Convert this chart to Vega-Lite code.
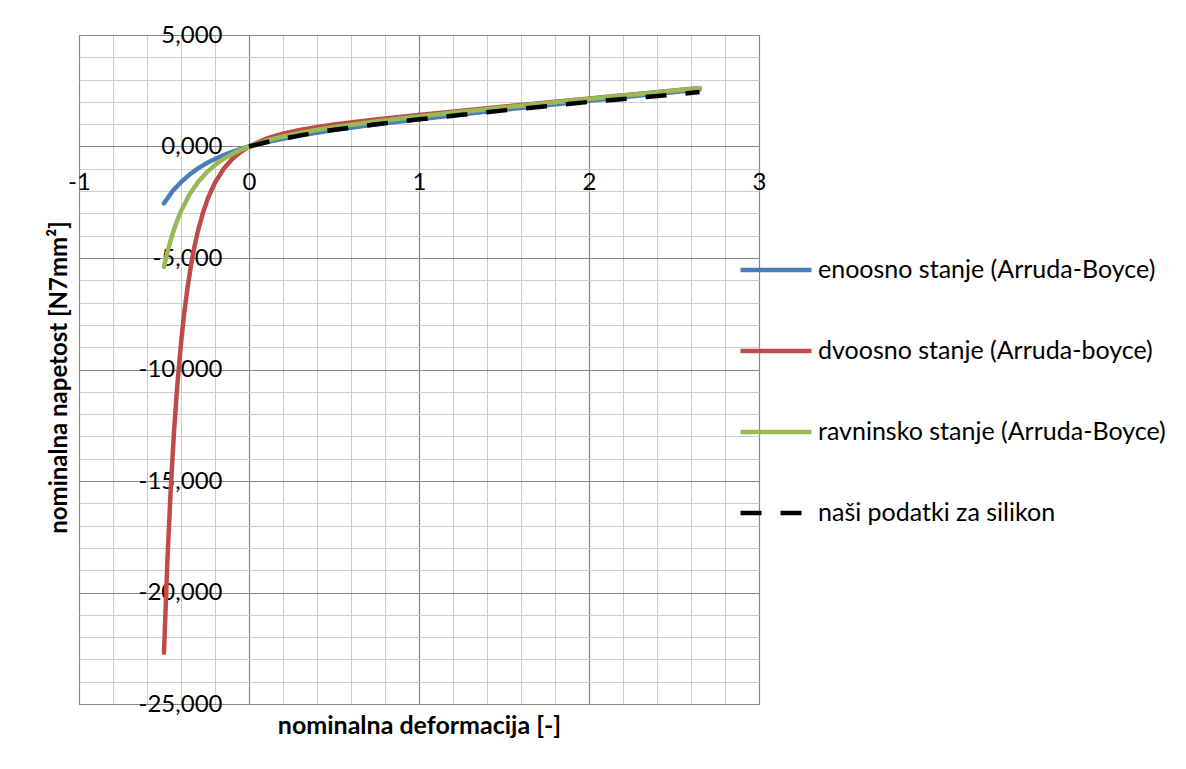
{
  "$schema": "https://vega.github.io/schema/vega-lite/v6.json",
  "width": 680,
  "height": 669,
  "autosize": {"type": "none"},
  "padding": {"left": 79, "top": 35, "right": 427, "bottom": 65},
  "background": "white",
  "config": {
    "view": {"stroke": "#868686", "strokeWidth": 1},
    "font": "Lato"
  },
  "data": {
    "values": [
      {"series": "enoosno stanje (Arruda-Boyce)", "x": -0.5, "y": -2.55},
      {"series": "enoosno stanje (Arruda-Boyce)", "x": -0.45, "y": -2.0},
      {"series": "enoosno stanje (Arruda-Boyce)", "x": -0.4, "y": -1.6},
      {"series": "enoosno stanje (Arruda-Boyce)", "x": -0.35, "y": -1.26},
      {"series": "enoosno stanje (Arruda-Boyce)", "x": -0.3, "y": -0.98},
      {"series": "enoosno stanje (Arruda-Boyce)", "x": -0.25, "y": -0.75},
      {"series": "enoosno stanje (Arruda-Boyce)", "x": -0.2, "y": -0.56},
      {"series": "enoosno stanje (Arruda-Boyce)", "x": -0.15, "y": -0.39},
      {"series": "enoosno stanje (Arruda-Boyce)", "x": -0.1, "y": -0.245},
      {"series": "enoosno stanje (Arruda-Boyce)", "x": -0.05, "y": -0.115},
      {"series": "enoosno stanje (Arruda-Boyce)", "x": 0, "y": 0},
      {"series": "enoosno stanje (Arruda-Boyce)", "x": 0.1, "y": 0.19},
      {"series": "enoosno stanje (Arruda-Boyce)", "x": 0.2, "y": 0.35},
      {"series": "enoosno stanje (Arruda-Boyce)", "x": 0.3, "y": 0.49},
      {"series": "enoosno stanje (Arruda-Boyce)", "x": 0.4, "y": 0.62},
      {"series": "enoosno stanje (Arruda-Boyce)", "x": 0.5, "y": 0.74},
      {"series": "enoosno stanje (Arruda-Boyce)", "x": 0.75, "y": 1.0},
      {"series": "enoosno stanje (Arruda-Boyce)", "x": 1.0, "y": 1.22},
      {"series": "enoosno stanje (Arruda-Boyce)", "x": 1.25, "y": 1.44},
      {"series": "enoosno stanje (Arruda-Boyce)", "x": 1.5, "y": 1.65},
      {"series": "enoosno stanje (Arruda-Boyce)", "x": 1.75, "y": 1.85},
      {"series": "enoosno stanje (Arruda-Boyce)", "x": 2.0, "y": 2.05},
      {"series": "enoosno stanje (Arruda-Boyce)", "x": 2.25, "y": 2.25},
      {"series": "enoosno stanje (Arruda-Boyce)", "x": 2.5, "y": 2.44},
      {"series": "enoosno stanje (Arruda-Boyce)", "x": 2.65, "y": 2.55},

      {"series": "dvoosno stanje (Arruda-boyce)", "x": -0.5, "y": -22.7},
      {"series": "dvoosno stanje (Arruda-boyce)", "x": -0.48, "y": -18.56},
      {"series": "dvoosno stanje (Arruda-boyce)", "x": -0.46, "y": -15.29},
      {"series": "dvoosno stanje (Arruda-boyce)", "x": -0.44, "y": -12.67},
      {"series": "dvoosno stanje (Arruda-boyce)", "x": -0.42, "y": -10.55},
      {"series": "dvoosno stanje (Arruda-boyce)", "x": -0.4, "y": -8.83},
      {"series": "dvoosno stanje (Arruda-boyce)", "x": -0.38, "y": -7.41},
      {"series": "dvoosno stanje (Arruda-boyce)", "x": -0.36, "y": -6.25},
      {"series": "dvoosno stanje (Arruda-boyce)", "x": -0.34, "y": -5.27},
      {"series": "dvoosno stanje (Arruda-boyce)", "x": -0.32, "y": -4.46},
      {"series": "dvoosno stanje (Arruda-boyce)", "x": -0.3, "y": -3.78},
      {"series": "dvoosno stanje (Arruda-boyce)", "x": -0.27, "y": -2.95},
      {"series": "dvoosno stanje (Arruda-boyce)", "x": -0.24, "y": -2.29},
      {"series": "dvoosno stanje (Arruda-boyce)", "x": -0.2, "y": -1.62},
      {"series": "dvoosno stanje (Arruda-boyce)", "x": -0.15, "y": -1.01},
      {"series": "dvoosno stanje (Arruda-boyce)", "x": -0.1, "y": -0.57},
      {"series": "dvoosno stanje (Arruda-boyce)", "x": -0.05, "y": -0.25},
      {"series": "dvoosno stanje (Arruda-boyce)", "x": 0, "y": 0},
      {"series": "dvoosno stanje (Arruda-boyce)", "x": 0.1, "y": 0.345},
      {"series": "dvoosno stanje (Arruda-boyce)", "x": 0.2, "y": 0.575},
      {"series": "dvoosno stanje (Arruda-boyce)", "x": 0.3, "y": 0.74},
      {"series": "dvoosno stanje (Arruda-boyce)", "x": 0.4, "y": 0.87},
      {"series": "dvoosno stanje (Arruda-boyce)", "x": 0.5, "y": 0.985},
      {"series": "dvoosno stanje (Arruda-boyce)", "x": 0.75, "y": 1.215},
      {"series": "dvoosno stanje (Arruda-boyce)", "x": 1.0, "y": 1.415},
      {"series": "dvoosno stanje (Arruda-boyce)", "x": 1.25, "y": 1.6},
      {"series": "dvoosno stanje (Arruda-boyce)", "x": 1.5, "y": 1.79},
      {"series": "dvoosno stanje (Arruda-boyce)", "x": 1.75, "y": 1.97},
      {"series": "dvoosno stanje (Arruda-boyce)", "x": 2.0, "y": 2.15},
      {"series": "dvoosno stanje (Arruda-boyce)", "x": 2.25, "y": 2.33},
      {"series": "dvoosno stanje (Arruda-boyce)", "x": 2.5, "y": 2.51},
      {"series": "dvoosno stanje (Arruda-boyce)", "x": 2.65, "y": 2.62},

      {"series": "ravninsko stanje (Arruda-Boyce)", "x": -0.5, "y": -5.4},
      {"series": "ravninsko stanje (Arruda-Boyce)", "x": -0.48, "y": -4.75},
      {"series": "ravninsko stanje (Arruda-Boyce)", "x": -0.46, "y": -4.18},
      {"series": "ravninsko stanje (Arruda-Boyce)", "x": -0.44, "y": -3.7},
      {"series": "ravninsko stanje (Arruda-Boyce)", "x": -0.42, "y": -3.27},
      {"series": "ravninsko stanje (Arruda-Boyce)", "x": -0.4, "y": -2.9},
      {"series": "ravninsko stanje (Arruda-Boyce)", "x": -0.35, "y": -2.15},
      {"series": "ravninsko stanje (Arruda-Boyce)", "x": -0.3, "y": -1.595},
      {"series": "ravninsko stanje (Arruda-Boyce)", "x": -0.25, "y": -1.167},
      {"series": "ravninsko stanje (Arruda-Boyce)", "x": -0.2, "y": -0.83},
      {"series": "ravninsko stanje (Arruda-Boyce)", "x": -0.15, "y": -0.56},
      {"series": "ravninsko stanje (Arruda-Boyce)", "x": -0.1, "y": -0.34},
      {"series": "ravninsko stanje (Arruda-Boyce)", "x": -0.05, "y": -0.156},
      {"series": "ravninsko stanje (Arruda-Boyce)", "x": 0, "y": 0},
      {"series": "ravninsko stanje (Arruda-Boyce)", "x": 0.1, "y": 0.251},
      {"series": "ravninsko stanje (Arruda-Boyce)", "x": 0.2, "y": 0.447},
      {"series": "ravninsko stanje (Arruda-Boyce)", "x": 0.3, "y": 0.608},
      {"series": "ravninsko stanje (Arruda-Boyce)", "x": 0.4, "y": 0.746},
      {"series": "ravninsko stanje (Arruda-Boyce)", "x": 0.5, "y": 0.867},
      {"series": "ravninsko stanje (Arruda-Boyce)", "x": 0.75, "y": 1.126},
      {"series": "ravninsko stanje (Arruda-Boyce)", "x": 1.0, "y": 1.35},
      {"series": "ravninsko stanje (Arruda-Boyce)", "x": 1.25, "y": 1.557},
      {"series": "ravninsko stanje (Arruda-Boyce)", "x": 1.5, "y": 1.754},
      {"series": "ravninsko stanje (Arruda-Boyce)", "x": 1.75, "y": 1.945},
      {"series": "ravninsko stanje (Arruda-Boyce)", "x": 2.0, "y": 2.133},
      {"series": "ravninsko stanje (Arruda-Boyce)", "x": 2.25, "y": 2.319},
      {"series": "ravninsko stanje (Arruda-Boyce)", "x": 2.5, "y": 2.503},
      {"series": "ravninsko stanje (Arruda-Boyce)", "x": 2.65, "y": 2.613},

      {"series": "naši podatki za silikon", "x": 0, "y": 0},
      {"series": "naši podatki za silikon", "x": 0.1, "y": 0.19},
      {"series": "naši podatki za silikon", "x": 0.2, "y": 0.35},
      {"series": "naši podatki za silikon", "x": 0.3, "y": 0.5},
      {"series": "naši podatki za silikon", "x": 0.4, "y": 0.63},
      {"series": "naši podatki za silikon", "x": 0.5, "y": 0.75},
      {"series": "naši podatki za silikon", "x": 0.75, "y": 1.0},
      {"series": "naši podatki za silikon", "x": 1.0, "y": 1.22},
      {"series": "naši podatki za silikon", "x": 1.25, "y": 1.42},
      {"series": "naši podatki za silikon", "x": 1.5, "y": 1.62},
      {"series": "naši podatki za silikon", "x": 1.75, "y": 1.81},
      {"series": "naši podatki za silikon", "x": 2.0, "y": 2.0},
      {"series": "naši podatki za silikon", "x": 2.25, "y": 2.16},
      {"series": "naši podatki za silikon", "x": 2.5, "y": 2.33},
      {"series": "naši podatki za silikon", "x": 2.65, "y": 2.44}
    ]
  },
  "encoding": {
    "color": {
      "field": "series", "type": "nominal",
      "scale": {
        "domain": ["enoosno stanje (Arruda-Boyce)", "dvoosno stanje (Arruda-boyce)", "ravninsko stanje (Arruda-Boyce)", "naši podatki za silikon"],
        "range": ["#4A7EBB", "#BE4B48", "#98B954", "#000000"]
      },
      "legend": {
        "orient": "none", "legendX": 659, "legendY": 197, "title": null, "padding": 0,
        "symbolType": "stroke", "symbolSize": 5041, "symbolStrokeWidth": 4.5,
        "labelFont": "Lato", "labelFontSize": 25, "labelColor": "#000000", "labelOffset": 4,
        "labelLimit": 600, "rowPadding": 30
      }
    },
    "strokeDash": {
      "field": "series", "type": "nominal",
      "scale": {
        "domain": ["enoosno stanje (Arruda-Boyce)", "dvoosno stanje (Arruda-boyce)", "ravninsko stanje (Arruda-Boyce)", "naši podatki za silikon"],
        "range": [[1, 0], [1, 0], [1, 0], [21, 19]]
      },
      "legend": {
        "orient": "none", "legendX": 659, "legendY": 197, "title": null, "padding": 0,
        "symbolType": "stroke", "symbolSize": 5041, "symbolStrokeWidth": 4.5,
        "labelFont": "Lato", "labelFontSize": 25, "labelColor": "#000000", "labelOffset": 4,
        "labelLimit": 600, "rowPadding": 30
      }
    }
  },
  "layer": [
    {
      "transform": [{"filter": "datum.series === 'enoosno stanje (Arruda-Boyce)'"}],
      "mark": {"type": "line", "strokeWidth": 4.5, "strokeCap": "round", "strokeJoin": "round"},
      "encoding": {
        "x": {"field": "x", "type": "quantitative", "scale": {"domain": [-1, 3], "nice": false, "zero": false},
          "axis": {"orient": "bottom", "values": [-0.8, -0.6, -0.4, -0.2, 0.2, 0.4, 0.6, 0.8, 1.2, 1.4, 1.6, 1.8, 2.2, 2.4, 2.6, 2.8],
            "grid": true, "gridColor": "#cdcdcd", "gridWidth": 1, "gridOpacity": 1, "labels": false, "ticks": false, "domain": false, "title": null}},
        "y": {"field": "y", "type": "quantitative", "scale": {"domain": [-25, 5], "nice": false, "zero": false},
          "axis": {"orient": "left", "values": [-24, -23, -22, -21, -19, -18, -17, -16, -14, -13, -12, -11, -9, -8, -7, -6, -4, -3, -2, -1, 1, 2, 3, 4],
            "grid": true, "gridColor": "#cdcdcd", "gridWidth": 1, "gridOpacity": 1, "labels": false, "ticks": false, "domain": false, "title": null}}
      }
    },
    {
      "transform": [{"filter": "datum.series === 'dvoosno stanje (Arruda-boyce)'"}],
      "mark": {"type": "line", "strokeWidth": 4.5, "strokeCap": "round", "strokeJoin": "round"},
      "encoding": {
        "x": {"field": "x", "type": "quantitative", "scale": {"domain": [-1, 3], "nice": false, "zero": false},
          "axis": {"orient": "bottom", "values": [-1, 0, 1, 2, 3],
            "grid": true, "gridColor": "#868686", "gridWidth": 1.2, "gridOpacity": 1, "labels": false, "ticks": false, "domain": false,
            "title": "nominalna deformacija [-]", "titleFont": "Lato", "titleFontSize": 25, "titleFontWeight": "bold", "titleColor": "#000000", "titlePadding": 9}},
        "y": {"field": "y", "type": "quantitative", "scale": {"domain": [-25, 5], "nice": false, "zero": false},
          "axis": {"orient": "left", "values": [-25, -20, -15, -10, -5, 0, 5],
            "grid": true, "gridColor": "#868686", "gridWidth": 1.2, "gridOpacity": 1, "labels": false, "ticks": false, "domain": false, "title": null}}
      }
    },
    {
      "transform": [{"filter": "datum.series === 'ravninsko stanje (Arruda-Boyce)'"}],
      "mark": {"type": "line", "strokeWidth": 4.5, "strokeCap": "round", "strokeJoin": "round"},
      "encoding": {
        "x": {"field": "x", "type": "quantitative", "scale": {"domain": [-1, 3], "nice": false, "zero": false},
          "axis": {"orient": "bottom", "offset": -522, "values": [-1, 0, 1, 2, 3], "grid": false, "ticks": false, "domain": false, "title": null,
            "labelExpr": "(datum.value < 0 ? '-' : '') + abs(datum.value)",
            "labelFont": "Lato", "labelFontSize": 24, "labelColor": "#000000", "labelBaseline": "middle", "labelPadding": 0,
            "labelFlush": false, "labelOverlap": false, "labelBound": false}},
        "y": {"field": "y", "type": "quantitative", "scale": {"domain": [-25, 5], "nice": false, "zero": false},
          "axis": {"orient": "left", "offset": -170, "values": [-25, -20, -15, -10, -5, 0, 5], "grid": false, "ticks": false, "domain": false, "title": null,
            "labelExpr": "(datum.value < 0 ? '-' : '') + replace(format(abs(datum.value), '.3f'), '.', ',')",
            "labelFont": "Lato", "labelFontSize": 24, "labelColor": "#000000", "labelBaseline": "middle", "labelAlign": "right", "labelPadding": 27,
            "labelFlush": false, "labelOverlap": false, "labelBound": false}}
      }
    },
    {
      "transform": [{"filter": "datum.series === 'naši podatki za silikon'"}],
      "mark": {"type": "line", "strokeWidth": 4.5, "strokeCap": "butt", "strokeJoin": "round"},
      "encoding": {
        "x": {"field": "x", "type": "quantitative", "scale": {"domain": [-1, 3], "nice": false, "zero": false}, "axis": null},
        "y": {"field": "y", "type": "quantitative", "scale": {"domain": [-25, 5], "nice": false, "zero": false},
          "axis": {"orient": "left", "offset": 3, "values": [0], "grid": false, "labels": false, "ticks": false, "domain": false,
            "title": "nominalna napetost [N7mm²]", "titleFont": "Lato", "titleFontSize": 24, "titleFontWeight": "bold", "titleColor": "#000000",
            "titlePadding": 5, "minExtent": 0, "titleY": 342}}
      }
    }
  ],
  "resolve": {"axis": {"x": "independent", "y": "independent"}}
}
